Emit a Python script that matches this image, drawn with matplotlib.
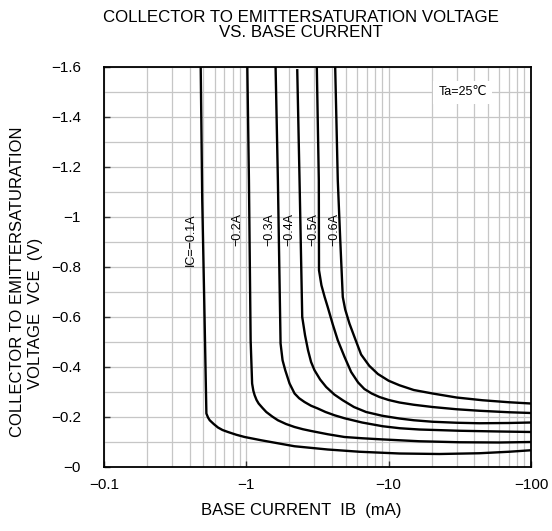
import matplotlib
matplotlib.use("Agg")
import matplotlib.pyplot as plt
import numpy as np

plt.rcParams['font.family'] = ['Liberation Sans', 'DejaVu Sans']

# ---- data (IB in mA magnitude, VCE in V magnitude; displayed as negative) ----
ib_01 = [0.478, 0.490, 0.506, 0.524, 0.538, 0.553, 0.59, 0.632, 0.68, 0.743, 0.85, 0.973, 1.27, 1.7, 2.18,
         3.73, 6.23, 11.9, 22.7, 43.3, 70.2, 100]
vce_01 = [1.60, 1.067, 0.667, 0.214, 0.198, 0.187, 0.172, 0.158, 0.148, 0.140, 0.129, 0.120, 0.107, 0.094, 0.083,
          0.070, 0.061, 0.054, 0.052, 0.055, 0.061, 0.067]

ib_02 = [1.016, 1.043, 1.072, 1.098, 1.12, 1.144, 1.18, 1.22, 1.30, 1.381, 1.52, 1.666, 1.9, 2.182, 2.5, 2.856,
         3.735, 4.891, 6.5, 8.61, 16.4, 31.3, 59.8, 100]
vce_02 = [1.60, 1.147, 0.507, 0.334, 0.305, 0.287, 0.268, 0.254, 0.236, 0.220, 0.202, 0.187, 0.172, 0.160, 0.151, 0.144,
          0.131, 0.120, 0.115, 0.111, 0.103, 0.099, 0.098, 0.100]

ib_03 = [1.605, 1.666, 1.740, 1.797, 1.877, 2.012, 2.182, 2.35, 2.563, 2.85, 3.178, 3.6, 4.161, 4.891, 6.5,
         9.08, 12.0, 16.4, 31.3, 59.8, 100]
vce_03 = [1.60, 1.147, 0.494, 0.427, 0.387, 0.334, 0.294, 0.275, 0.260, 0.245, 0.234, 0.220, 0.207, 0.195, 0.178,
          0.163, 0.155, 0.150, 0.145, 0.142, 0.140]

ib_04 = [2.279, 2.365, 2.470, 2.585, 2.713, 2.85, 3.013, 3.3, 3.639, 4.15, 4.758, 5.7, 6.94, 9.0, 11.89, 15.0,
         20.35, 30.0, 43.3, 70.0, 100]
vce_04 = [1.587, 1.147, 0.600, 0.527, 0.467, 0.420, 0.387, 0.350, 0.320, 0.290, 0.267, 0.240, 0.220, 0.205, 0.194, 0.187,
          0.181, 0.177, 0.175, 0.176, 0.178]

ib_05 = [3.127, 3.23, 3.24, 3.37, 3.55, 3.73, 4.05, 4.39, 4.9, 5.45, 6.1, 6.75, 7.6, 8.61, 10.0, 11.9, 15.0,
         20.3, 30.0, 43.3, 70.0, 100]
vce_05 = [1.60, 1.147, 0.787, 0.727, 0.680, 0.640, 0.570, 0.507, 0.440, 0.380, 0.338, 0.312, 0.294, 0.280, 0.268, 0.258, 0.249,
          0.240, 0.231, 0.225, 0.219, 0.216]

ib_06 = [4.21, 4.39, 4.57, 4.76, 4.95, 5.30, 5.75, 6.40, 7.3, 8.4, 10.0, 11.9, 15.0, 20.35, 30.0, 45.6, 70.0, 100]
vce_06 = [1.60, 1.147, 0.907, 0.680, 0.630, 0.574, 0.520, 0.450, 0.405, 0.372, 0.345, 0.327, 0.308, 0.294, 0.278, 0.267,
          0.259, 0.254]

curve_labels = ["IC=\u22120.1A", "\u22120.2A", "\u22120.3A", "\u22120.4A", "\u22120.5A", "\u22120.6A"]
label_ib = [0.411, 0.86, 1.46, 2.01, 2.98, 4.18]
label_top = 1.015

xtick_vals = [0.1, 1, 10, 100]
xtick_labels = ["\u22120.1", "\u22121", "\u221210", "\u2212100"]
ytick_vals = [0, 0.2, 0.4, 0.6, 0.8, 1.0, 1.2, 1.4, 1.6]
ytick_labels = ["\u22120", "\u22120.2", "\u22120.4", "\u22120.6", "\u22120.8", "\u22121", "\u22121.2", "\u22121.4", "\u22121.6"]

# ---- figure ----
fig = plt.figure(figsize=(5.52, 5.31), dpi=100)
ax = fig.add_axes([104/552, 64/531, 427/552, 400/531])

ax.set_xscale('log')
ax.set_xlim(0.1, 100)
ax.set_ylim(0, 1.6)

curves = [(ib_01, vce_01), (ib_02, vce_02), (ib_03, vce_03),
          (ib_04, vce_04), (ib_05, vce_05), (ib_06, vce_06)]
for ib, v in curves:
    ax.plot(ib, v, color='black', lw=1.7, solid_joinstyle='round', zorder=3)

# ticks
ax.set_xticks(xtick_vals)
ax.set_xticklabels(xtick_labels)
minor_x = [m * d for d in (0.1, 1, 10) for m in range(2, 10)]
ax.set_xticks(minor_x, minor=True)
ax.set_yticks(ytick_vals)
ax.set_yticklabels(ytick_labels)
ax.set_yticks(np.arange(0.1, 1.6, 0.2), minor=True)

ax.tick_params(axis='both', which='major', direction='in', length=4.5, width=1,
               labelsize=11, color='#333333')
ax.tick_params(axis='y', which='major', pad=16.5)
ax.tick_params(axis='x', which='major', pad=8)
ax.tick_params(which='minor', length=0)
ax.tick_params(top=False, right=False)

ax.grid(True, which='both', color='#c6c6c6', lw=0.9, zorder=0)
ax.set_axisbelow(True)
for s in ax.spines.values():
    s.set_linewidth(1.3)
    s.set_color('black')
    s.set_zorder(4)

# curve labels
for lab, xb in zip(curve_labels, label_ib):
    ax.text(xb, label_top, lab, rotation=90, ha='center', va='top', fontsize=9, zorder=5)

ax.text(33, 1.5, "Ta=25\u2103", fontsize=9, ha='center', va='center',
        family=['Liberation Sans', 'DejaVu Sans'],
        bbox=dict(facecolor='white', edgecolor='none', pad=4), zorder=5)

# titles / labels
fig.text(301/552, 1 - 17.5/531, "COLLECTOR TO EMITTERSATURATION VOLTAGE", ha='center', va='center', fontsize=12.2)
fig.text(301/552, 1 - 32.5/531, "VS. BASE CURRENT", ha='center', va='center', fontsize=12.2)
fig.text(301/552, 1 - 510/531, "BASE CURRENT  IB  (mA)", ha='center', va='center', fontsize=12)
fig.text(17.5/552, 1 - 281.5/531, "COLLECTOR TO EMITTERSATURATION", rotation=90, ha='center', va='center', fontsize=12)
fig.text(35.5/552, 1 - 313/531, "VOLTAGE  VCE  (V)", rotation=90, ha='center', va='center', fontsize=12)

fig.savefig("out.png", dpi=100)
